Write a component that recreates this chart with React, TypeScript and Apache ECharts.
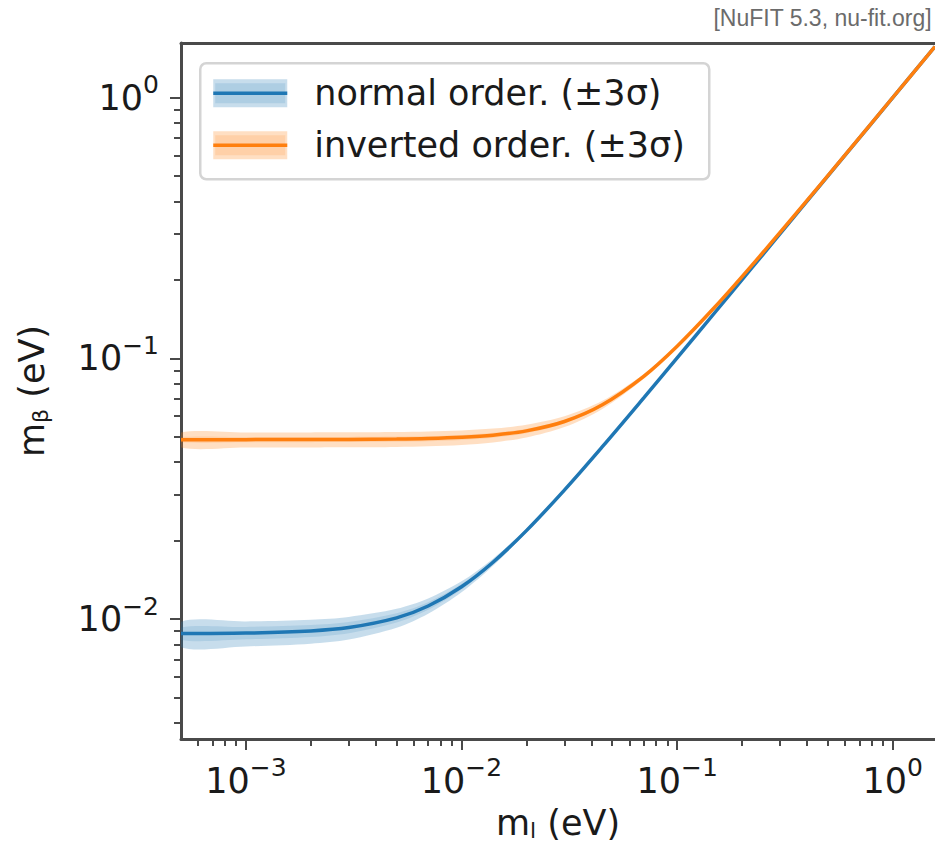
import React, { useEffect, useRef } from "react";
import * as echarts from "echarts";

// lightest neutrino mass m_l (eV) sample points
const mLight = [0.0005, 0.001, 0.002, 0.003, 0.005, 0.007, 0.01, 0.014, 0.02, 0.03, 0.045, 0.07, 0.1, 0.15, 0.22, 0.35, 0.6, 1.0, 1.57];

// normal ordering m_beta (eV)
const noCentral = [0.0088, 0.00884, 0.00901, 0.00928, 0.01011, 0.01123, 0.01331, 0.01653, 0.02185, 0.03126, 0.04585, 0.07055, 0.1004, 0.1503, 0.2202, 0.3501, 0.6001, 1.0, 1.57];
const noUpper3 = [0.00976, 0.0098, 0.00995, 0.0102, 0.01095, 0.012, 0.01396, 0.01706, 0.02225, 0.03154, 0.04604, 0.07068, 0.10047, 0.1503, 0.2202, 0.3501, 0.6001, 1.0, 1.57];
const noLower3 = [0.00781, 0.00786, 0.00805, 0.00835, 0.00926, 0.01048, 0.01268, 0.01603, 0.02147, 0.031, 0.04567, 0.07043, 0.1003, 0.1503, 0.2202, 0.3501, 0.6001, 1.0, 1.57];
const noUpperIn = [0.00929, 0.00933, 0.00949, 0.00975, 0.01054, 0.01162, 0.01364, 0.01679, 0.02205, 0.0314, 0.04595, 0.07062, 0.10043, 0.1503, 0.2202, 0.3501, 0.6001, 1.0, 1.57];
const noLowerIn = [0.00832, 0.00837, 0.00854, 0.00883, 0.0097, 0.01086, 0.013, 0.01628, 0.02166, 0.03113, 0.04576, 0.07049, 0.10034, 0.1503, 0.2202, 0.3501, 0.6001, 1.0, 1.57];

// inverted ordering m_beta (eV)
const ioCentral = [0.04879, 0.0488, 0.04883, 0.04888, 0.04904, 0.04928, 0.0498, 0.05075, 0.05273, 0.05727, 0.06637, 0.08532, 0.1113, 0.1577, 0.2253, 0.3534, 0.602, 1.0012, 1.5708];
const ioUpper3 = [0.05196, 0.05197, 0.052, 0.05205, 0.0522, 0.05243, 0.05292, 0.05381, 0.05568, 0.06, 0.06874, 0.08718, 0.1127, 0.1587, 0.2261, 0.3538, 0.6022, 1.0013, 1.5709];
const ioLower3 = [0.0455, 0.04551, 0.04554, 0.0456, 0.04577, 0.04603, 0.04658, 0.0476, 0.0497, 0.0545, 0.06399, 0.08349, 0.1099, 0.1567, 0.2247, 0.3529, 0.6017, 1.001, 1.5707];
const ioUpperIn = [0.0499, 0.04991, 0.04994, 0.04999, 0.05015, 0.05039, 0.05089, 0.05183, 0.05376, 0.05822, 0.06719, 0.08597, 0.1118, 0.1582, 0.2257, 0.3536, 0.6021, 1.0012, 1.5708];
const ioLowerIn = [0.04765, 0.04766, 0.04769, 0.04774, 0.04791, 0.04816, 0.04868, 0.04966, 0.05167, 0.0563, 0.06554, 0.08468, 0.1108, 0.1572, 0.225, 0.3531, 0.6019, 1.0011, 1.5707];

// axis ticks
const xMajorTicks = [0.001, 0.01, 0.1, 1];
const xMinorTicks = [0.0006, 0.0007, 0.0008, 0.0009, 0.002, 0.003, 0.004, 0.005, 0.006, 0.007, 0.008, 0.009, 0.02, 0.03, 0.04, 0.05, 0.06, 0.07, 0.08, 0.09, 0.2, 0.3, 0.4, 0.5, 0.6, 0.7, 0.8, 0.9];
const yMajorTicks = [0.01, 0.1, 1];
const yMinorTicks = [0.004, 0.005, 0.006, 0.007, 0.008, 0.009, 0.02, 0.03, 0.04, 0.05, 0.06, 0.07, 0.08, 0.09, 0.2, 0.3, 0.4, 0.5, 0.6, 0.7, 0.8, 0.9];

const legendLabels = ["normal order. (±3σ)", "inverted order. (±3σ)"];
const sourceNote = "[NuFIT 5.3, nu-fit.org]";

const BLUE = "#1f77b4";
const ORANGE = "#ff7f0e";
const AXIS = "#4a4a4a";
const FONT = "DejaVu Sans";

function pairs(ys: number[]) {
  return mLight.map((x, i) => [x, ys[i]]);
}

function band(name: string, upper: number[], lower: number[], fill: string) {
  return {
    type: "custom",
    name,
    coordinateSystem: "cartesian2d",
    xAxisIndex: 0,
    yAxisIndex: 0,
    silent: true,
    z: 1,
    data: [[mLight[0], upper[0]]],
    renderItem: (params: any, api: any) => {
      const top = mLight.map((x, i) => api.coord([x, upper[i]]));
      const bottom = mLight.map((x, i) => api.coord([x, lower[i]])).reverse();
      const cs = params.coordSys;
      return {
        type: "polygon",
        shape: { points: top.concat(bottom), smooth: 0.3 },
        style: { fill, stroke: "none" },
        clipPath: { type: "rect", shape: { x: cs.x, y: cs.y, width: cs.width, height: cs.height } },
      };
    },
  };
}

function powLabel(v: number) {
  const e = Math.round(Math.log10(v));
  const s = e < 0 ? "\u2212" + String(-e) : String(e);
  return `{b|10}{s|${s}}`;
}

const tickRich = {
  b: { fontSize: 35, fontFamily: FONT, color: "#1a1a1a" },
  s: { fontSize: 25, fontFamily: FONT, color: "#1a1a1a", padding: [0, 0, 26, 0] },
};

export default function App() {
  const ref = useRef<HTMLDivElement>(null);
  useEffect(() => {
    if (!ref.current) return;
    const chart = echarts.init(ref.current, undefined, { renderer: "svg" });
    const xMin = 0.0005, xMax = 1.57, yMin = 0.00347, yMax = 1.62;
    const legendX = 199, legendY = 62;
    chart.setOption({
      animation: false,
      backgroundColor: "#ffffff",
      grid: { left: 181, top: 43, width: 754, height: 696, containLabel: false, outerBoundsMode: "none" },
      xAxis: [
        {
          type: "log", logBase: 10, min: xMin, max: xMax, position: "bottom",
          name: "{m|m}{sub|l}{m| (eV)}", nameLocation: "middle", nameGap: 66,
          nameTextStyle: {
            rich: {
              m: { fontSize: 35, fontFamily: FONT, color: "#1a1a1a" },
              sub: { fontSize: 22, fontFamily: FONT, color: "#1a1a1a", padding: [14, 0, 0, 0] },
            },
          },
          axisLine: { show: true, lineStyle: { color: AXIS, width: 3 } },
          axisTick: { show: true, length: 11, lineStyle: { color: AXIS, width: 2 }, customValues: xMajorTicks },
          axisLabel: { show: true, margin: 16, formatter: powLabel, rich: tickRich, customValues: xMajorTicks },
          splitLine: { show: false },
          minorTick: { show: false },
        },
        {
          type: "log", logBase: 10, min: xMin, max: xMax, position: "bottom",
          axisLine: { show: false },
          axisTick: { show: true, length: 7, lineStyle: { color: AXIS, width: 2 }, customValues: xMinorTicks },
          axisLabel: { show: false, customValues: xMinorTicks },
          splitLine: { show: false },
        },
        {
          type: "log", logBase: 10, min: xMin, max: xMax, position: "top",
          axisLine: { show: true, lineStyle: { color: AXIS, width: 3 } },
          axisTick: { show: false },
          axisLabel: { show: false },
          splitLine: { show: false },
        },
      ],
      yAxis: [
        {
          type: "log", logBase: 10, min: yMin, max: yMax, position: "left",
          name: "{m|m}{sub|β}{m| (eV)}", nameLocation: "middle", nameGap: 130, nameRotate: 90,
          nameTextStyle: {
            rich: {
              m: { fontSize: 35, fontFamily: FONT, color: "#1a1a1a" },
              sub: { fontSize: 22, fontFamily: FONT, color: "#1a1a1a", padding: [16, 0, 0, 0] },
            },
          },
          axisLine: { show: true, lineStyle: { color: AXIS, width: 3 } },
          axisTick: { show: true, length: 11, lineStyle: { color: AXIS, width: 2 }, customValues: yMajorTicks },
          axisLabel: { show: true, margin: 22, formatter: powLabel, rich: tickRich, customValues: yMajorTicks },
          splitLine: { show: false },
        },
        {
          type: "log", logBase: 10, min: yMin, max: yMax, position: "left",
          axisLine: { show: false },
          axisTick: { show: true, length: 7, lineStyle: { color: AXIS, width: 2 }, customValues: yMinorTicks },
          axisLabel: { show: false, customValues: yMinorTicks },
          splitLine: { show: false },
        },
      ],
      series: [
        band("no-band-outer", noUpper3, noLower3, "rgba(31,119,180,0.25)"),
        band("no-band-inner", noUpperIn, noLowerIn, "rgba(31,119,180,0.15)"),
        band("io-band-outer", ioUpper3, ioLower3, "rgba(255,127,14,0.25)"),
        band("io-band-inner", ioUpperIn, ioLowerIn, "rgba(255,127,14,0.15)"),
        {
          type: "line", name: legendLabels[0], data: pairs(noCentral), smooth: 0.35,
          showSymbol: false, symbol: "none", z: 3,
          lineStyle: { color: BLUE, width: 3.5 }, itemStyle: { color: BLUE },
        },
        {
          type: "line", name: legendLabels[1], data: pairs(ioCentral), smooth: 0.35,
          showSymbol: false, symbol: "none", z: 4,
          lineStyle: { color: ORANGE, width: 3.5 }, itemStyle: { color: ORANGE },
        },
      ],
      graphic: [
        {
          type: "text", right: 3, top: 6,
          style: { text: sourceNote, fontSize: 23, fontFamily: "Liberation Sans", fill: "#6b6b6b" },
        },
        {
          type: "group", left: legendX, top: legendY, z: 10,
          children: [
            { type: "rect", shape: { x: 0, y: 0, width: 509, height: 116, r: 6 }, style: { fill: "rgba(255,255,255,0.85)", stroke: "#d4d4d4", lineWidth: 2.5 } },
            { type: "rect", shape: { x: 13, y: 16, width: 74, height: 28 }, style: { fill: "rgba(31,119,180,0.25)" } },
            { type: "rect", shape: { x: 15, y: 20, width: 70, height: 20 }, style: { fill: "rgba(31,119,180,0.15)" } },
            { type: "line", shape: { x1: 13, y1: 30, x2: 87, y2: 30 }, style: { stroke: BLUE, lineWidth: 3.5 } },
            { type: "text", x: 114, y: 30, style: { text: legendLabels[0], fontSize: 35, fontFamily: FONT, fill: "#1a1a1a", verticalAlign: "middle" } },
            { type: "rect", shape: { x: 13, y: 68, width: 74, height: 28 }, style: { fill: "rgba(255,127,14,0.25)" } },
            { type: "rect", shape: { x: 15, y: 72, width: 70, height: 20 }, style: { fill: "rgba(255,127,14,0.15)" } },
            { type: "line", shape: { x1: 13, y1: 82, x2: 87, y2: 82 }, style: { stroke: ORANGE, lineWidth: 3.5 } },
            { type: "text", x: 114, y: 82, style: { text: legendLabels[1], fontSize: 35, fontFamily: FONT, fill: "#1a1a1a", verticalAlign: "middle" } },
          ],
        },
      ],
    });
    return () => chart.dispose();
  }, []);
  return <div ref={ref} style={{ position: "absolute", left: 0, top: 0, width: 935, height: 850 }} />;
}
